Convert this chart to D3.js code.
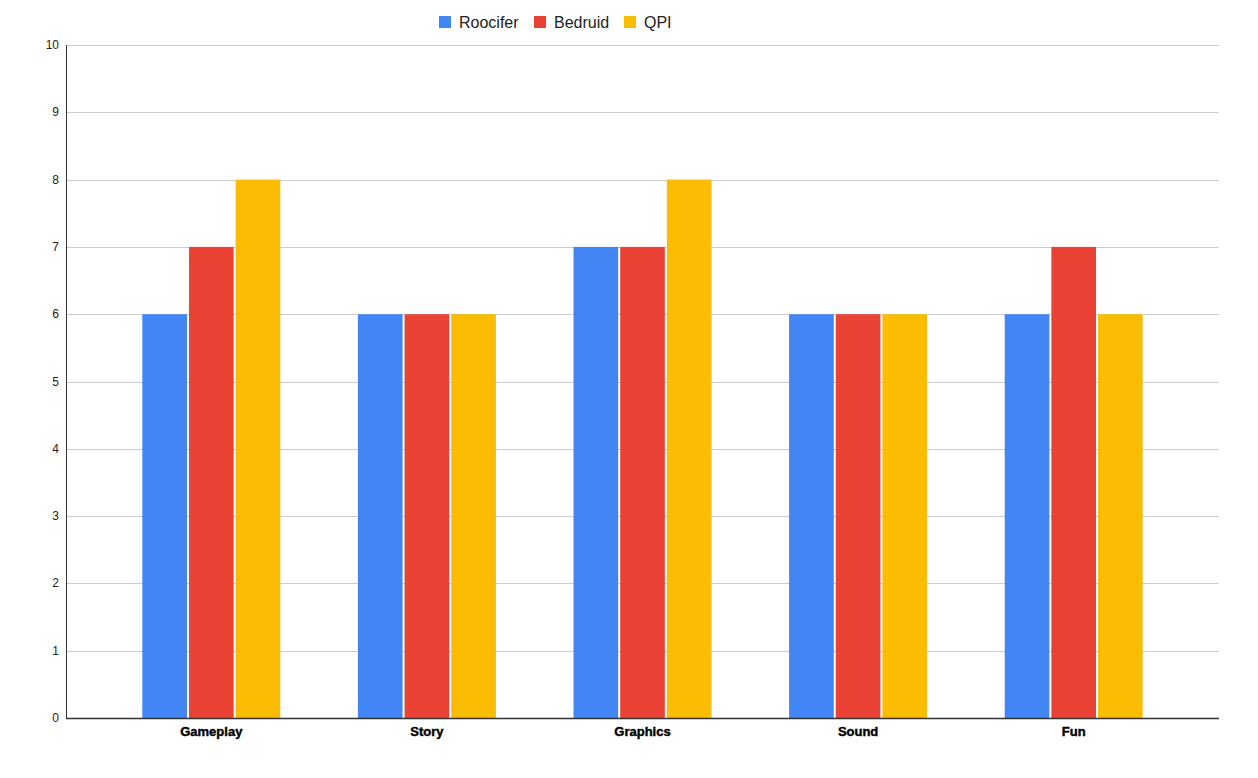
<!DOCTYPE html>
<html><head><meta charset="utf-8">
<script src="https://cdn.jsdelivr.net/npm/d3@7"></script>
<style>body{margin:0;background:#fff}svg{display:block}</style>
</head><body>
<svg id="c" width="1258" height="778"></svg>
<script>
const categories = ["Gameplay","Story","Graphics","Sound","Fun"];
const seriesNames = ["Roocifer","Bedruid","QPI"];
const roocifer = [6,6,7,6,6];
const bedruid = [7,6,7,6,7];
const qpi = [8,6,8,6,6];
const yTicks = [0,1,2,3,4,5,6,7,8,9,10];
const colors = ["#4285F4","#EA4335","#FBBC04"];
const seriesValues = [roocifer, bedruid, qpi];

(function(){
const svg = d3.select("#c");
const mLeft = 66, mRight = 1219, mTop = 45, mBottom = 718;
const y = d3.scaleLinear().domain([0,10]).range([mBottom, mTop]);
const x0 = d3.scaleBand().domain(categories).range([103.5, 1181.5]).paddingInner(0).paddingOuter(0);
const groupW = 140;
const x1 = d3.scaleBand().domain(seriesNames).range([0, groupW]);

// gridlines
svg.append("g").selectAll("line").data(yTicks.filter(d=>d>0)).join("line")
  .attr("x1", mLeft).attr("x2", mRight)
  .attr("y1", d=>Math.round(y(d))+0.5).attr("y2", d=>Math.round(y(d))+0.5)
  .attr("stroke", "#cccccc").attr("stroke-width", 1);

// y labels
svg.append("g").selectAll("text").data(yTicks).join("text")
  .attr("x", 59).attr("y", d=>y(d)+4)
  .attr("text-anchor","end").attr("font-family","Liberation Sans, Arial, sans-serif")
  .attr("font-size", 12).attr("fill","#222").text(d=>d);

// bars
seriesNames.forEach((s, si) => {
  svg.append("g").selectAll("rect").data(categories).join("rect")
    .attr("x", (c)=> x0(c) + x0.bandwidth()/2 - groupW/2 + x1(s) + 1)
    .attr("width", x1.bandwidth() - 2)
    .attr("y", (c,i)=> y(seriesValues[si][i]))
    .attr("height", (c,i)=> mBottom - y(seriesValues[si][i]))
    .attr("fill", colors[si]);
});

// axes lines
svg.append("line").attr("x1", mLeft+0.5).attr("x2", mLeft+0.5).attr("y1", mTop).attr("y2", mBottom+1)
  .attr("stroke","#333").attr("stroke-width",1);
svg.append("line").attr("x1", mLeft).attr("x2", mRight).attr("y1", mBottom+0.5).attr("y2", mBottom+0.5)
  .attr("stroke","#333").attr("stroke-width",1.3);

// category labels
svg.append("g").selectAll("text").data(categories).join("text")
  .attr("x", c=>x0(c)+x0.bandwidth()/2).attr("y", 736)
  .attr("text-anchor","middle").attr("font-family","Liberation Sans, Arial, sans-serif")
  .attr("font-weight","bold").attr("font-size", 13).attr("fill","#000")
  .attr("stroke","#000").attr("stroke-width",0.4).text(c=>c);

// legend
const legendX = [439, 534, 624];
const lg = svg.append("g");
seriesNames.forEach((s, i) => {
  lg.append("rect").attr("x", legendX[i]).attr("y", 16).attr("width", 12).attr("height", 12).attr("fill", colors[i]);
  lg.append("text").attr("x", legendX[i]+20).attr("y", 28)
    .attr("font-family","Liberation Sans, Arial, sans-serif").attr("font-size", 16)
    .attr("fill","#222").text(s);
});
})();
</script>
</body></html>
